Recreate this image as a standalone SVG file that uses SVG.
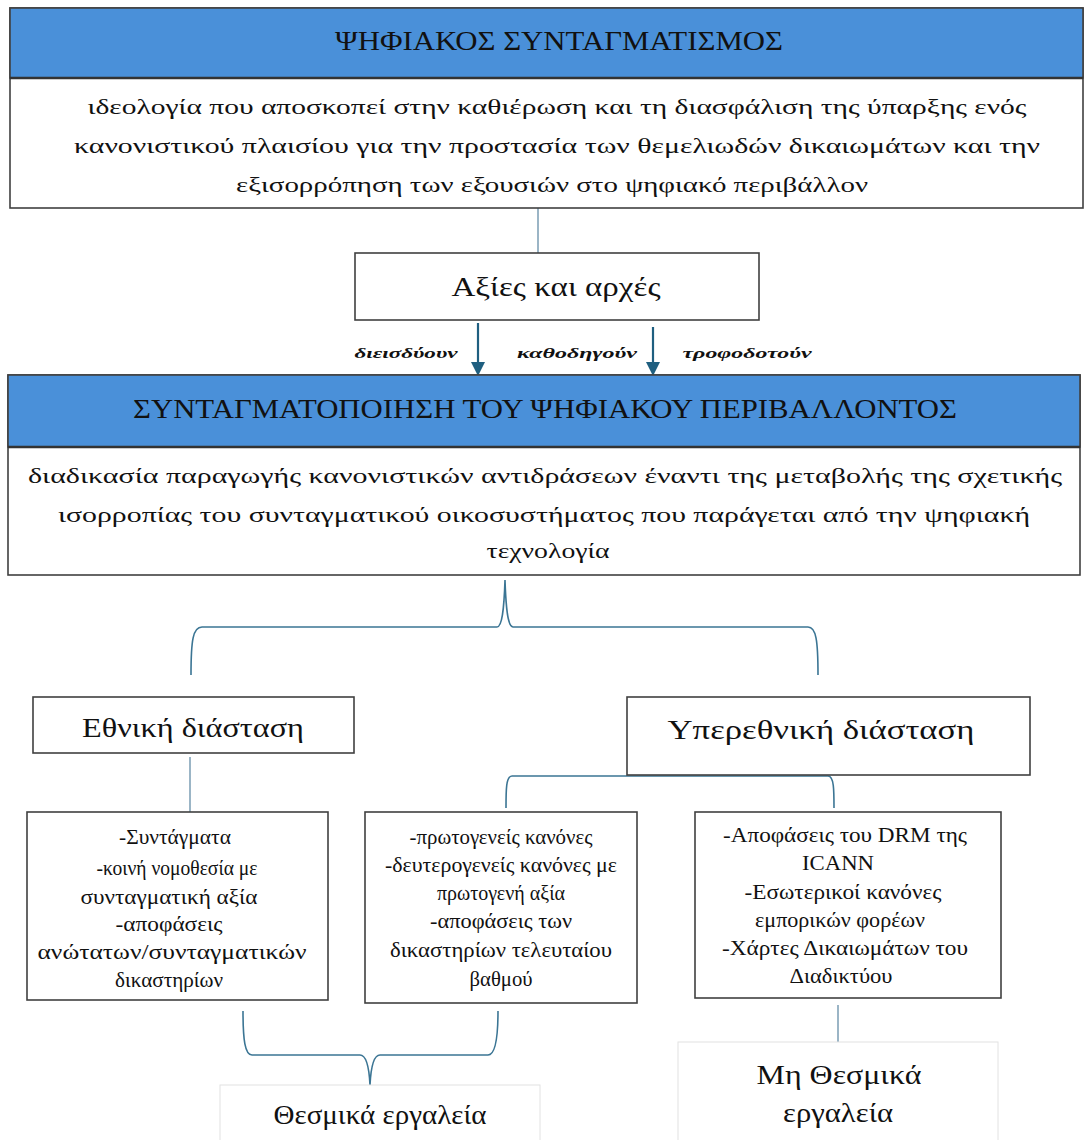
<svg xmlns="http://www.w3.org/2000/svg" width="1085" height="1140" viewBox="0 0 1085 1140">
<style>
.box{fill:#fff;stroke:#404040;stroke-width:1.6}
.hdr{fill:#4a90d9;stroke:#404040;stroke-width:1.6}
.lbox{fill:#fff;stroke:#e2e2e2;stroke-width:1}
.t{font-family:"Liberation Serif","DejaVu Serif",serif;fill:#111;text-anchor:middle}
.ttl{font-size:28px}
.body{font-size:22px}
.lab{font-size:15px;font-style:italic;font-weight:bold}
.item{font-size:20px}
.big{font-size:27px}
.conn{fill:none;stroke:#7a9db3;stroke-width:1.5}
.brace{fill:none;stroke:#3b7594;stroke-width:1.6}
.arr{stroke:#1f5f80;stroke-width:2.2;fill:none}
.ah{fill:#1f5f80}
</style>

<g id="connectors">
<line class="conn" x1="538" y1="208" x2="538" y2="253"/>
<line class="arr" x1="478" y1="323" x2="478" y2="362"/>
<path class="ah" d="M471,362 L485,362 L478,376 Z"/>
<line class="arr" x1="653" y1="327" x2="653" y2="362"/>
<path class="ah" d="M646,362 L660,362 L653,376 Z"/>
<path class="brace" d="M191,675 C191,640 193,627 202,627 L497,627 C502,627 504,610 505,580 C506,610 508,627 513,627 L808,627 C816,627 818,640 818,675"/>
<line class="conn" x1="190" y1="757" x2="190" y2="815"/>
<path class="brace" d="M506,808 C506,790 506,776 512,776 L828,776 C834,776 834,790 834,808"/>
<line class="conn" x1="838" y1="1005" x2="838" y2="1042"/>
<path class="brace" d="M243,1011 C243,1040 245,1055 252,1055 L360,1055 C366,1055 369,1065 370,1085 C371,1065 374,1055 380,1055 L488,1055 C495,1055 498,1040 498,1011"/>
</g>

<g id="n-top">
<rect class="box" x="10" y="8" width="1073" height="200"/>
<rect class="hdr" x="10" y="8" width="1073" height="70"/>
<line x1="10" y1="78" x2="1083" y2="78" stroke="#333" stroke-width="2.5"/>
<text class="t ttl" x="559" y="50" textLength="448" lengthAdjust="spacingAndGlyphs">ΨΗΦΙΑΚΟΣ ΣΥΝΤΑΓΜΑΤΙΣΜΟΣ</text>
<text class="t body" x="557" y="114" textLength="939" lengthAdjust="spacingAndGlyphs">ιδεολογία που αποσκοπεί στην καθιέρωση και τη διασφάλιση της ύπαρξης ενός</text>
<text class="t body" x="557" y="153" textLength="966" lengthAdjust="spacingAndGlyphs">κανονιστικού πλαισίου για την προστασία των θεμελιωδών δικαιωμάτων και την</text>
<text class="t body" x="552" y="192" textLength="632" lengthAdjust="spacingAndGlyphs">εξισορρόπηση των εξουσιών στο ψηφιακό περιβάλλον</text>
</g>

<g id="n-values">
<rect class="box" x="355" y="253" width="404" height="67"/>
<text class="t big" x="556" y="296" textLength="209" lengthAdjust="spacingAndGlyphs">Αξίες και αρχές</text>
</g>

<g id="labels">
<text class="t lab" x="406" y="358" textLength="103" lengthAdjust="spacingAndGlyphs">διεισδύουν</text>
<text class="t lab" x="577" y="358" textLength="120" lengthAdjust="spacingAndGlyphs">καθοδηγούν</text>
<text class="t lab" x="747" y="358" textLength="129" lengthAdjust="spacingAndGlyphs">τροφοδοτούν</text>
</g>

<g id="n-const">
<rect class="box" x="8" y="375" width="1072" height="200"/>
<rect class="hdr" x="8" y="375" width="1072" height="72"/>
<line x1="8" y1="447" x2="1080" y2="447" stroke="#333" stroke-width="2.5"/>
<text class="t ttl" x="545" y="418" textLength="824" lengthAdjust="spacingAndGlyphs">ΣΥΝΤΑΓΜΑΤΟΠΟΙΗΣΗ ΤΟΥ ΨΗΦΙΑΚΟΥ ΠΕΡΙΒΑΛΛΟΝΤΟΣ</text>
<text class="t body" x="545" y="483" textLength="1034" lengthAdjust="spacingAndGlyphs">διαδικασία παραγωγής κανονιστικών αντιδράσεων έναντι της μεταβολής της σχετικής</text>
<text class="t body" x="544" y="522" textLength="972" lengthAdjust="spacingAndGlyphs">ισορροπίας του συνταγματικού οικοσυστήματος που παράγεται από την ψηφιακή</text>
<text class="t body" x="548" y="558" textLength="123" lengthAdjust="spacingAndGlyphs">τεχνολογία</text>
</g>

<g id="n-national">
<rect class="box" x="33" y="697" width="321" height="56"/>
<text class="t big" x="193" y="737" textLength="222" lengthAdjust="spacingAndGlyphs">Εθνική διάσταση</text>
</g>

<g id="n-supra">
<rect class="box" x="627" y="697" width="403" height="78"/>
<text class="t big" x="821" y="739" textLength="307" lengthAdjust="spacingAndGlyphs">Υπερεθνική  διάσταση</text>
</g>

<g id="n-list1">
<rect class="box" x="27" y="812" width="301" height="188"/>
<text class="t item" x="175" y="844" textLength="112" lengthAdjust="spacingAndGlyphs">-Συντάγματα</text>
<text class="t item" x="177" y="875" textLength="161" lengthAdjust="spacingAndGlyphs">-κοινή νομοθεσία με</text>
<text class="t item" x="169" y="904" textLength="177" lengthAdjust="spacingAndGlyphs">συνταγματική αξία</text>
<text class="t item" x="169" y="931" textLength="107" lengthAdjust="spacingAndGlyphs">-αποφάσεις</text>
<text class="t item" x="172" y="959" textLength="269" lengthAdjust="spacingAndGlyphs">ανώτατων/συνταγματικών</text>
<text class="t item" x="169" y="987" textLength="108" lengthAdjust="spacingAndGlyphs">δικαστηρίων</text>
</g>

<g id="n-list2">
<rect class="box" x="365" y="812" width="272" height="191"/>
<text class="t item" x="501" y="844" textLength="183" lengthAdjust="spacingAndGlyphs">-πρωτογενείς κανόνες</text>
<text class="t item" x="501" y="872" textLength="232" lengthAdjust="spacingAndGlyphs">-δευτερογενείς  κανόνες με</text>
<text class="t item" x="501" y="900" textLength="128" lengthAdjust="spacingAndGlyphs">πρωτογενή αξία</text>
<text class="t item" x="501" y="928" textLength="142" lengthAdjust="spacingAndGlyphs">-αποφάσεις των</text>
<text class="t item" x="501" y="957" textLength="222" lengthAdjust="spacingAndGlyphs">δικαστηρίων τελευταίου</text>
<text class="t item" x="501" y="986" textLength="63" lengthAdjust="spacingAndGlyphs">βαθμού</text>
</g>

<g id="n-list3">
<rect class="box" x="695" y="812" width="306" height="186"/>
<text class="t item" x="845" y="842" textLength="244" lengthAdjust="spacingAndGlyphs">-Αποφάσεις του DRM της</text>
<text class="t item" x="838" y="870" textLength="72" lengthAdjust="spacingAndGlyphs">ICANN</text>
<text class="t item" x="843" y="899" textLength="197" lengthAdjust="spacingAndGlyphs">-Εσωτερικοί κανόνες</text>
<text class="t item" x="840" y="927" textLength="170" lengthAdjust="spacingAndGlyphs">εμπορικών φορέων</text>
<text class="t item" x="845" y="955" textLength="246" lengthAdjust="spacingAndGlyphs">-Χάρτες Δικαιωμάτων του</text>
<text class="t item" x="841" y="983" textLength="103" lengthAdjust="spacingAndGlyphs">Διαδικτύου</text>
</g>

<g id="n-inst">
<rect class="lbox" x="220" y="1085" width="320" height="60"/>
<text class="t big" x="380" y="1124" textLength="213" lengthAdjust="spacingAndGlyphs">Θεσμικά εργαλεία</text>
</g>

<g id="n-noninst">
<rect class="lbox" x="678" y="1042" width="320" height="103"/>
<text class="t big" x="839" y="1084" textLength="165" lengthAdjust="spacingAndGlyphs">Μη Θεσμικά</text>
<text class="t big" x="838" y="1122" textLength="110" lengthAdjust="spacingAndGlyphs">εργαλεία</text>
</g>
</svg>
